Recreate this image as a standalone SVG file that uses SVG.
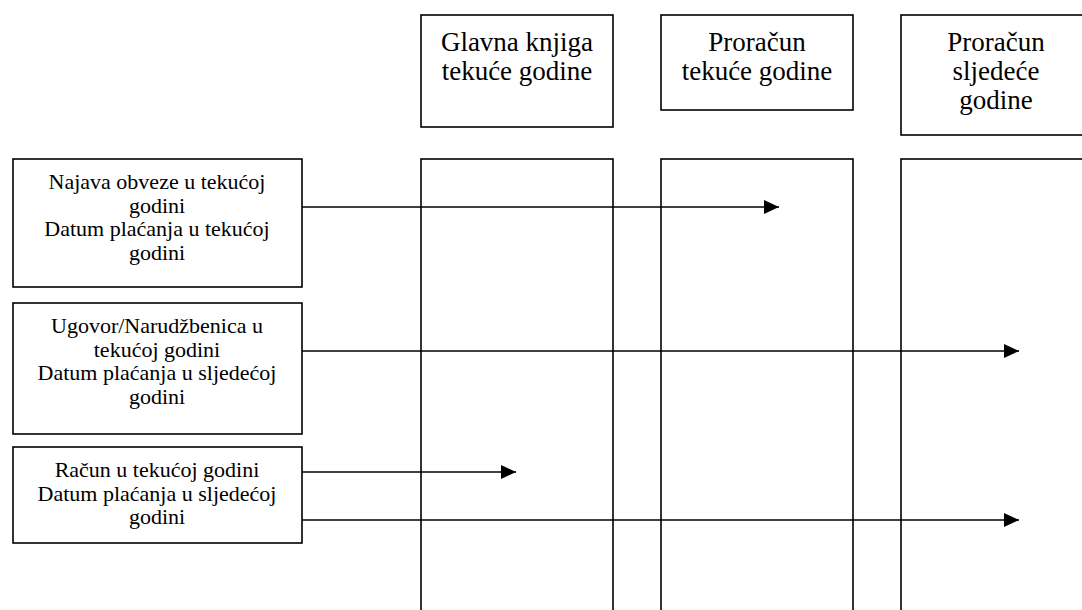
<svg xmlns="http://www.w3.org/2000/svg" width="1082" height="610" viewBox="0 0 1082 610">
<defs>
<marker id="arr" markerWidth="15" markerHeight="14" refX="15" refY="7" orient="auto" markerUnits="userSpaceOnUse">
<path d="M0,0 L15,7 L0,14 Z" fill="#000"/>
</marker>
<style>
.box{fill:#fff;stroke:#000;stroke-width:1.6}
.hd{font-family:"Liberation Serif","Times New Roman",serif;font-size:27px;text-anchor:middle;fill:#000}
.lb{font-family:"Liberation Serif","Times New Roman",serif;font-size:22px;text-anchor:middle;fill:#000}
.conn{stroke:#000;stroke-width:1.4;fill:none;marker-end:url(#arr)}
</style>
</defs>
<rect width="1082" height="610" fill="#fff"/>
<g id="col-glavna">
<rect class="box" x="421" y="159" width="192" height="470"/>
</g>
<g id="col-tekuci">
<rect class="box" x="661" y="159" width="192" height="470"/>
</g>
<g id="col-sljedeci">
<rect class="box" x="901" y="159" width="192" height="470"/>
</g>
<g id="hdr-glavna">
<rect class="box" x="421" y="15" width="192" height="112"/>
<text class="hd" x="517" y="51">Glavna knjiga</text>
<text class="hd" x="517" y="80">tekuće godine</text>
</g>
<g id="hdr-tekuci">
<rect class="box" x="661" y="15" width="192" height="95"/>
<text class="hd" x="757" y="51">Proračun</text>
<text class="hd" x="757" y="80">tekuće godine</text>
</g>
<g id="hdr-sljedeci">
<rect class="box" x="901" y="15" width="192" height="120"/>
<text class="hd" x="996" y="51">Proračun</text>
<text class="hd" x="996" y="80">sljedeće</text>
<text class="hd" x="996" y="109">godine</text>
</g>
<g id="najava">
<rect class="box" x="13" y="159" width="289" height="128"/>
<text class="lb" x="157" y="189">Najava obveze u tekućoj</text>
<text class="lb" x="157" y="213">godini</text>
<text class="lb" x="157" y="236">Datum plaćanja u tekućoj</text>
<text class="lb" x="157" y="260">godini</text>
</g>
<g id="ugovor">
<rect class="box" x="13" y="303" width="289" height="131"/>
<text class="lb" x="157" y="333">Ugovor/Narudžbenica u</text>
<text class="lb" x="157" y="357">tekućoj godini</text>
<text class="lb" x="157" y="380">Datum plaćanja u sljedećoj</text>
<text class="lb" x="157" y="404">godini</text>
</g>
<g id="racun">
<rect class="box" x="13" y="447" width="289" height="96"/>
<text class="lb" x="157" y="477">Račun u tekućoj godini</text>
<text class="lb" x="157" y="501">Datum plaćanja u sljedećoj</text>
<text class="lb" x="157" y="524">godini</text>
</g>
<g id="connectors">
<line class="conn" x1="302" y1="207" x2="779" y2="207"/>
<line class="conn" x1="302" y1="351" x2="1019" y2="351"/>
<line class="conn" x1="302" y1="472" x2="516" y2="472"/>
<line class="conn" x1="302" y1="520" x2="1019" y2="520"/>
</g>
</svg>
